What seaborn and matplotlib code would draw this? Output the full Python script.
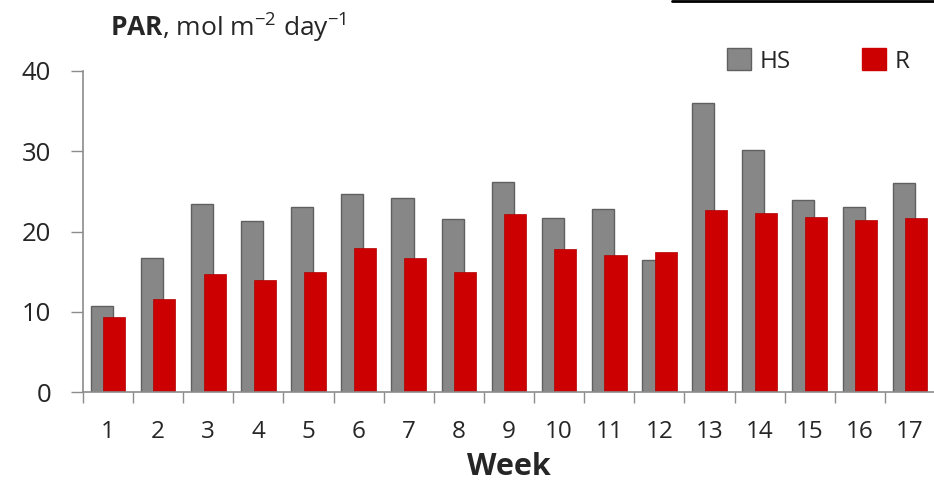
import pandas as pd
import matplotlib.pyplot as plt
import seaborn as sns
from matplotlib.lines import Line2D

# Weekly PAR values
weeks = [str(w) for w in range(1, 18)]
hs_values = [10.7, 16.7, 23.4, 21.3, 23.0, 24.7, 24.2, 21.5, 26.2,
             21.7, 22.8, 16.5, 36.0, 30.2, 23.9, 23.0, 26.0]
r_values = [9.4, 11.6, 14.7, 14.0, 15.0, 18.0, 16.7, 15.0, 22.2,
            17.8, 17.1, 17.4, 22.7, 22.3, 21.8, 21.4, 21.7]
sites = ['HS', 'R']
site_colors = {'HS': '#878787', 'R': '#CC0000'}
y_ticks = [0, 10, 20, 30, 40]

df = pd.DataFrame({
    'Week': weeks * 2,
    'PAR': hs_values + r_values,
    'Site': ['HS'] * len(weeks) + ['R'] * len(weeks),
})

sns.set_theme(style='white')
plt.rcParams['font.family'] = ['Open Sans', 'DejaVu Sans']
plt.rcParams['mathtext.fontset'] = 'custom'
plt.rcParams['mathtext.rm'] = 'Open Sans'
plt.rcParams['mathtext.bf'] = 'Open Sans:bold'

fig = plt.figure(figsize=(9.34, 4.87), dpi=100)
ax = fig.add_axes([83 / 934, 1 - 392 / 487, 852 / 934, 321 / 487])

sns.barplot(data=df, x='Week', y='PAR', hue='Site', hue_order=sites,
            palette=site_colors, width=0.5, dodge=True, saturation=1,
            ax=ax, legend=False)

# Excel-style overlapping bars: widen each bar around its dodged center
bar_w = 0.44
for i, patch in enumerate(ax.patches):
    cx = patch.get_x() + patch.get_width() / 2
    patch.set_width(bar_w)
    patch.set_x(cx - bar_w / 2)
    if i < len(weeks):
        patch.set_edgecolor('#606060')
        patch.set_linewidth(1.0)
    else:
        patch.set_edgecolor('#B00000')
        patch.set_linewidth(0.5)

ax.set_xlim(-0.5, len(weeks) - 0.5)
ax.set_ylim(0, 40)
ax.set_yticks(y_ticks)
ax.set_yticklabels([str(t) for t in y_ticks], fontsize=18.5)
ax.set_xticks([i - 0.5 for i in range(len(weeks))], minor=False)
ax.set_xticklabels([])
ax.set_xticks(range(len(weeks)), minor=True)
ax.set_xticklabels(weeks, minor=True, fontsize=17.5)
ax.tick_params(axis='x', which='major', direction='out', length=8,
               width=1, color='#8C8C8C', bottom=True)
ax.tick_params(axis='x', which='minor', length=0, pad=20, bottom=True)
ax.tick_params(axis='y', direction='out', length=9, width=1,
               color='#8C8C8C', left=True, pad=14)

for side in ['top', 'right']:
    ax.spines[side].set_visible(False)
for side in ['left', 'bottom']:
    ax.spines[side].set_color('#8C8C8C')
    ax.spines[side].set_linewidth(1.2)

ax.set_ylabel('')
ax.set_xlabel('Week', fontsize=22, fontweight='bold', labelpad=6)

handles = [plt.Rectangle((0, 0), 1, 1, facecolor=site_colors[s],
                         edgecolor='#606060' if s == 'HS' else site_colors[s])
           for s in sites]
fig.legend(handles, sites, ncol=2, frameon=False, loc='center left',
           bbox_to_anchor=(727 / 934, 1 - 61 / 487), fontsize=17.5,
           handlelength=1.0, handleheight=1.0, handletextpad=0.35,
           columnspacing=2.9, borderpad=0, borderaxespad=0)

fig.text(110 / 934, 1 - 36 / 487,
         r'$\mathbf{PAR}$, mol m$^{\mathrm{-2}}$ day$^{\mathrm{-1}}$',
         fontsize=19, va='baseline', ha='left')

# thin black rule at the top-right edge of the reference
fig.add_artist(Line2D([672 / 934, 1.0], [0.998, 0.998], color='black',
                      linewidth=2, transform=fig.transFigure))

fig.savefig('out.png', dpi=100)
